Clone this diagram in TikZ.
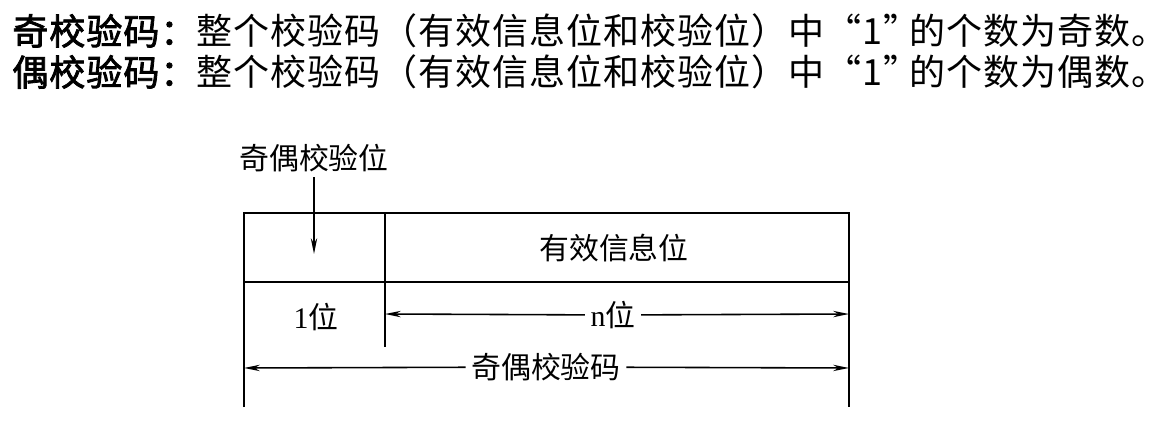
\documentclass[tikz,border=0pt]{standalone}
\usepackage{fontspec}
\usepackage{tikz}
\usetikzlibrary{arrows.meta,positioning}
\newfontfamily\cjk{Noto Sans CJK SC}
\newfontfamily\cjktitle{Noto Sans CJK SC}[LetterSpace=2.8]
\newfontfamily\cjkbold{Noto Sans CJK SC}[LetterSpace=2.8,FakeBold=2.2]
\newfontfamily\latinserif{Liberation Serif}

\begin{document}
\begin{tikzpicture}[x=0.02cm, y=-0.02cm,
    frame/.style={line width=1.1pt},
    arr/.style={line width=0.9pt, -{Stealth[length=9pt,width=3.6pt]}},
    title/.style={anchor=west, inner sep=0pt, font=\cjktitle\fontsize{20.5}{24}\selectfont},
    lbl/.style={inner sep=3pt, font=\cjk\fontsize{17}{20}\selectfont}]
            \useasboundingbox (0,0) rectangle (1170,422);
            % Define points
            \coordinate (TL) at (244,213);
            \coordinate (TR) at (849,213);
            \coordinate (ML) at (244,282);
            \coordinate (MR) at (849,282);
            \coordinate (BL) at (244,407);
            \coordinate (BR) at (849,407);
            \coordinate (DT) at (385,213);
            \coordinate (DB) at (385,347);
            \coordinate (ptip) at (314,254);
            \coordinate (nl) at (385,314);
            \coordinate (nr) at (849,314);
            \coordinate (cl) at (244,368);
            \coordinate (cr) at (849,368);
            % Draw the frame
            \draw[frame] (BL) -- (TL) -- (TR) -- (BR);
            \draw[frame] (ML) -- (MR);
            \draw[frame] (DT) -- (DB);
            % Title lines
            \node[title] (odd) at (12,31) {{\cjkbold 奇校验码：}整个校验码（有效信息位和校验位）中“1”\kern-0.3em 的个数为奇数。};
            \node[title] (even) at (12,72) {{\cjkbold 偶校验码：}整个校验码（有效信息位和校验位）中“1”\kern-0.3em 的个数为偶数。};
            % Labels
            \node[lbl] (pbit) at (314,158) {奇偶校验位};
            \node[lbl] (info) at (614,248) {有效信息位};
            \node[lbl] (one) at (316,317) {{\latinserif 1}位};
            \node[lbl] (nbits) at (613,315) {{\latinserif n}位};
            \node[lbl] (code) at (546,367) {奇偶校验码};
            % Draw the arrows
            \draw[arr] (pbit) -- (ptip);
            \draw[arr] (nbits) -- (nl);
            \draw[arr] (nbits) -- (nr);
            \draw[arr] (code) -- (cl);
            \draw[arr] (code) -- (cr);
\end{tikzpicture}
\end{document}
